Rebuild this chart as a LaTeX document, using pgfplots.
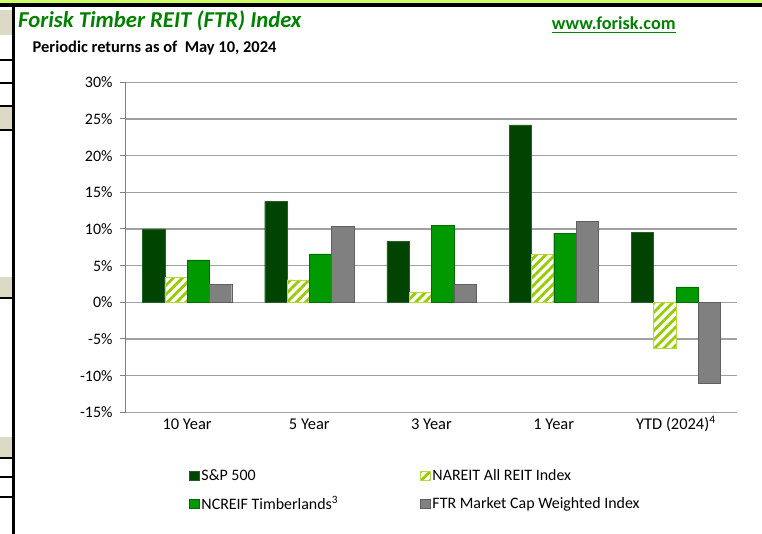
\documentclass[border=0pt]{standalone}
\usepackage{fontspec}
\setmainfont{Carlito}
\usepackage{pgfplots}
\pgfplotsset{compat=1.18}
\usetikzlibrary{patterns.meta}
\definecolor{spgreen}{RGB}{0,68,0}
\definecolor{ncgreen}{RGB}{0,153,0}
\definecolor{ftrgray}{RGB}{128,128,128}
\definecolor{nargreen}{RGB}{153,204,0}
\definecolor{titlegreen}{RGB}{0,128,0}
\definecolor{topband}{RGB}{204,255,102}
\definecolor{beige}{RGB}{221,217,196}
\definecolor{gridgray}{RGB}{160,160,160}
\begin{document}
\begin{tikzpicture}
\begin{axis}[
  name=ax,
  scale only axis, width=611bp, height=330bp,
  ybar=0pt, bar width=22.3bp,
  xmin=-0.5, xmax=4.5, ymin=-15, ymax=30,
  xtick={0,1,2,3,4},
  xticklabels={10 Year, 5 Year, 3 Year, 1 Year, YTD (2024)\textsuperscript{4}},
  ytick={-15,-10,...,30},
  yticklabel={\pgfmathprintnumber{\tick}\%},
  /pgf/number format/assume math mode=true,
  axis x line*=bottom, axis y line*=left,
  axis line style={draw=gray, line width=1bp, -},
  x axis line style={draw=gridgray, line width=1.5bp},
  xtick style={draw=none},
  ytick style={draw=gray, line width=1bp},
  tick align=outside, major tick length=6bp,
  ymajorgrids, grid style={gridgray, line width=1.5bp},
  tick label style={font=\fontsize{16}{19}\selectfont},
  xticklabel style={anchor=base, yshift=-11.5bp, font=\fontsize{16.5}{19}\selectfont},
  yticklabel style={xshift=-4bp},
  legend columns=2,
  legend cell align=left,
  legend style={draw=none, fill=none, at={(0.098,-0.16)}, anchor=north west,
    font=\fontsize{16}{19}\selectfont, row sep=10bp,
    /tikz/every even column/.append style={column sep=80bp}},
  legend image code/.code={\draw[#1] (0bp,-4.5bp) rectangle (10bp,4.5bp);},
]
\addplot[fill=spgreen, draw=spgreen!85!white] coordinates {(0,10.0) (1,13.75) (2,8.3) (3,24.2) (4,9.5)};
\addplot[fill=white, draw=nargreen!75!white, postaction={pattern={Lines[angle=45,distance=6.5bp,line width=2.8bp]}, pattern color=nargreen}] coordinates {(0,3.4) (1,3.05) (2,1.4) (3,6.5) (4,-6.3)};
\addplot[fill=ncgreen, draw=ncgreen!70!black] coordinates {(0,5.8) (1,6.6) (2,10.5) (3,9.4) (4,2.1)};
\addplot[fill=ftrgray, draw=ftrgray!75!black] coordinates {(0,2.45) (1,10.4) (2,2.4) (3,11.0) (4,-11.0)};
\legend{S\&P 500, NAREIT All REIT Index, NCREIF Timberlands\textsuperscript{3}, FTR Market Cap Weighted Index}
\end{axis}
\pgfresetboundingbox
\begin{scope}[shift={(ax.south west)}, x=1bp, y=1bp, shift={(-126,412.3)}]
\path[use as bounding box] (0,0) rectangle (762,-534);
% sheet decorations
\fill[topband] (0,0) rectangle (762,-3.5);
\fill[black] (0,-3.5) rectangle (762,-7);
\fill[beige] (0,-10) rectangle (12,-35);
\fill[beige] (0,-107) rectangle (12,-130);
\fill[beige] (0,-277) rectangle (12,-298);
\fill[beige] (0,-437) rectangle (12,-458);
\foreach \yy in {60,83,106,130,298,458,477,497}{\draw[black, line width=1.3] (0,-\yy) -- (12,-\yy);}
\fill[black] (12,-7) rectangle (15.3,-534);
% titles
\node[anchor=base west, inner sep=0, text=titlegreen, font=\fontsize{22.8}{26}\selectfont\bfseries\itshape] at (18,-27.3) {Forisk Timber REIT (FTR) Index};
\node[anchor=base west, inner sep=0, font=\fontsize{16.5}{19}\selectfont\bfseries] at (32.5,-52.3) {Periodic returns as of\ \ May 10, 2024};
\node[anchor=base west, inner sep=0, text=titlegreen, font=\fontsize{18.3}{21}\selectfont\bfseries] (url) at (551.7,-29.3) {www.forisk.com};
\draw[titlegreen, line width=1.3] ([yshift=-3.2]url.base west) -- ([yshift=-3.2]url.base east);
\end{scope}
\end{tikzpicture}
\end{document}
